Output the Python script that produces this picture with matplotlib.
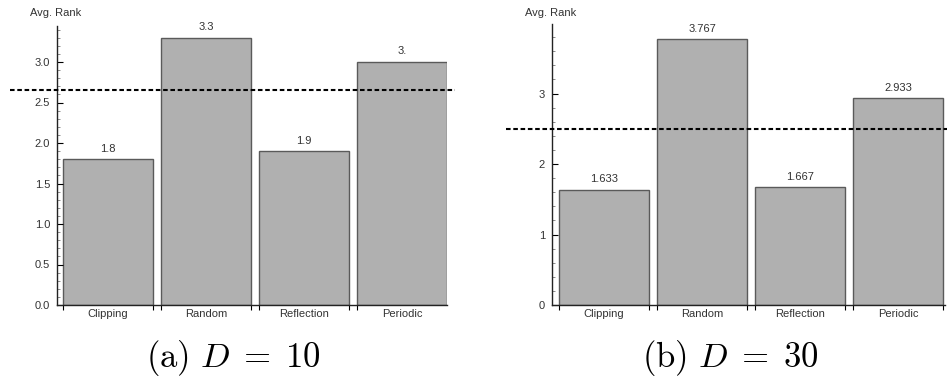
import matplotlib
matplotlib.use("Agg")
import matplotlib.pyplot as plt
from matplotlib.ticker import MultipleLocator, FixedLocator, NullFormatter

# Average rank of each boundary-handling strategy
methods = ["Clipping", "Random", "Reflection", "Periodic"]
rank_d10 = [1.8, 3.3, 1.9, 3.0]
rank_d30 = [1.633, 3.767, 1.667, 2.933]
ref_d10 = 2.65
ref_d30 = 2.5
captions = [r"$\mathrm{(a)}\ D\;=\;10$", r"$\mathrm{(b)}\ D\;=\;30$"]

plt.rcParams["font.family"] = ["Liberation Sans", "DejaVu Sans"]
plt.rcParams["mathtext.fontset"] = "cm"

W, H = 947, 380
fig = plt.figure(figsize=(W / 100, H / 100), dpi=100)

BAR_FILL = "#b0b0b0"
BAR_EDGE = "#5a5a5a"
TXT = "#333333"
FS = 8
bw = 90 / 98


def fmt(v):
    s = f"{v:g}"
    return s + "." if "." not in s else s


def panel(rect, vals, ref, ylim, major, minor, yfmt, xlim, caption, cap_x, lbl_x):
    ax = fig.add_axes(rect)
    x = list(range(len(vals)))
    ax.bar(x, vals, width=bw, color=BAR_FILL, edgecolor=BAR_EDGE, linewidth=1.0)
    for xi, v in zip(x, vals):
        ax.annotate(fmt(v), (xi, v), xytext=(0, 4), textcoords="offset points",
                    ha="center", va="bottom", fontsize=FS, color=TXT)
    ax.plot([-1.0, 3.54], [ref, ref], color="black", lw=1.5,
            dashes=(2.2, 1.3), clip_on=False, zorder=5)
    ax.set_xlim(*xlim)
    ax.set_ylim(*ylim)
    for s in ("top", "right"):
        ax.spines[s].set_visible(False)
    for s in ("left", "bottom"):
        ax.spines[s].set_color("#222222")
        ax.spines[s].set_linewidth(1.0)
    ax.yaxis.set_major_locator(MultipleLocator(major))
    ax.yaxis.set_minor_locator(MultipleLocator(minor))
    ax.yaxis.set_major_formatter(yfmt)
    ax.tick_params(axis="y", which="major", direction="in", length=4,
                   width=0.8, labelsize=FS, labelcolor=TXT, pad=5)
    ax.tick_params(axis="y", which="minor", direction="in", length=2.2,
                   width=0.6, color="#777777")
    # labels at bar centres, tick marks at bar edges
    ax.set_xticks(x)
    ax.set_xticklabels(methods)
    edges = []
    for xi in x:
        edges += [xi - bw / 2, xi + bw / 2]
    ax.xaxis.set_minor_locator(FixedLocator(edges))
    ax.xaxis.set_minor_formatter(NullFormatter())
    ax.tick_params(axis="x", which="major", length=0, labelsize=FS,
                   labelcolor=TXT, pad=3)
    ax.tick_params(axis="x", which="minor", direction="out", length=3.5,
                   width=0.8)
    fig.text(lbl_x / W, 1 - 13 / H, "Avg. Rank", fontsize=FS, color=TXT,
             ha="left", va="center")
    fig.text(cap_x / W, 1 - 367 / H, caption, fontsize=25, ha="center",
             va="baseline")
    return ax


# left panel: 81 px per unit, right panel: 70.5 px per unit
y0 = 1 - 305 / H
panel([57 / W, y0, 390 / W, 3.45 * 81 / H], rank_d10, ref_d10, (0, 3.45),
      0.5, 0.1, lambda v, p: f"{v:.1f}", (-0.52, 3.459), captions[0], 233, 30)
panel([552 / W, y0, 393 / W, 3.98 * 70.5 / H], rank_d30, ref_d30, (0, 3.98),
      1, 0.2, lambda v, p: f"{v:.0f}", (-0.53, 3.48), captions[1], 730, 525)

fig.savefig("out.png", dpi=100)
